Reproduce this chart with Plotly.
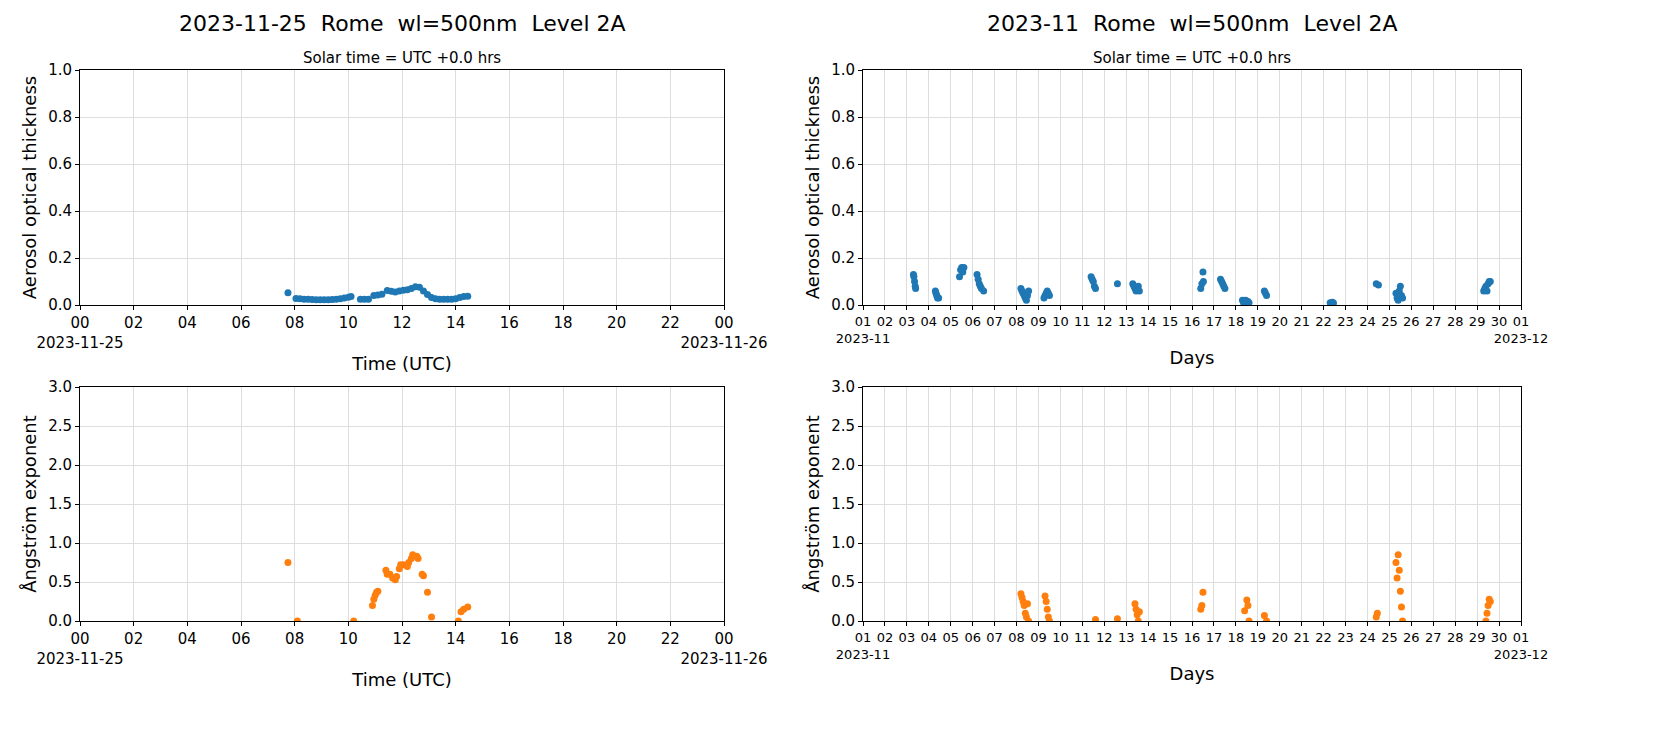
import plotly.graph_objects as go

# Day plot (2023-11-25), time in hours UTC
day_aot_t = [7.75, 8.05, 8.2, 8.35, 8.5, 8.65, 8.8, 8.95, 9.1, 9.25, 9.4, 9.55, 9.7, 9.85, 10.0, 10.1,
             10.45, 10.6, 10.75, 10.95, 11.1, 11.25, 11.45, 11.6, 11.75, 11.9, 12.05, 12.2, 12.35, 12.5, 12.65,
             12.8, 12.95, 13.1, 13.25, 13.4, 13.55, 13.7, 13.85, 14.0, 14.15, 14.3, 14.45]
day_aot_v = [0.052, 0.028, 0.027, 0.025, 0.024, 0.023, 0.022, 0.022, 0.022, 0.022, 0.023, 0.025, 0.027, 0.03, 0.033, 0.036,
             0.025, 0.024, 0.025, 0.04, 0.043, 0.046, 0.062, 0.058, 0.055, 0.06, 0.063, 0.065, 0.07, 0.078, 0.076,
             0.06, 0.045, 0.032, 0.027, 0.025, 0.024, 0.024, 0.025, 0.027, 0.032, 0.036, 0.037]
day_ae_t = [7.75, 8.1, 10.2, 10.9, 10.95, 11.0, 11.05, 11.1, 11.4, 11.45, 11.55, 11.65, 11.75, 11.8, 11.9, 11.95,
            12.05, 12.2, 12.25, 12.35, 12.4, 12.55, 12.6, 12.75, 12.8, 12.95, 13.1, 14.1, 14.2, 14.3, 14.45]
day_ae_v = [0.75, 0.0, 0.0, 0.2, 0.28, 0.33, 0.37, 0.38, 0.65, 0.6, 0.6, 0.55, 0.53, 0.57, 0.67, 0.72,
            0.72, 0.7, 0.75, 0.8, 0.85, 0.83, 0.8, 0.6, 0.58, 0.37, 0.05, 0.0, 0.12, 0.15, 0.18]

# Month plot (2023-11), day of month + fraction of day (1.0 = Nov 1 00:00)
mon_aot_t = [3.30, 3.32, 3.35, 3.38, 3.40, 4.30, 4.33, 4.36, 4.40, 4.45, 5.40, 5.45, 5.50, 5.55, 5.60,
             6.20, 6.25, 6.30, 6.35, 6.40, 6.50, 8.20, 8.25, 8.30, 8.35, 8.40, 8.45, 8.50, 8.55,
             9.25, 9.30, 9.35, 9.40, 9.45, 9.50, 11.40, 11.45, 11.50, 11.55, 11.60, 12.60,
             13.30, 13.35, 13.40, 13.45, 13.50, 13.55, 13.60, 16.40, 16.45, 16.50, 16.52,
             17.30, 17.35, 17.40, 17.45, 17.50, 18.30, 18.35, 18.45, 18.55, 18.60, 19.30, 19.35, 19.40,
             22.30, 22.35, 22.40, 22.45, 24.40, 24.50, 25.30, 25.35, 25.40, 25.45, 25.50, 25.55, 25.60,
             29.30, 29.35, 29.40, 29.45, 29.50, 29.55, 29.60]
mon_aot_v = [0.13, 0.12, 0.10, 0.08, 0.07, 0.06, 0.05, 0.04, 0.03, 0.03, 0.12, 0.15, 0.16, 0.14, 0.16,
             0.13, 0.11, 0.09, 0.08, 0.07, 0.06, 0.07, 0.06, 0.05, 0.04, 0.03, 0.02, 0.04, 0.06,
             0.03, 0.04, 0.05, 0.06, 0.05, 0.04, 0.12, 0.11, 0.10, 0.08, 0.07, 0.09,
             0.09, 0.08, 0.07, 0.06, 0.07, 0.08, 0.06, 0.07, 0.09, 0.14, 0.10,
             0.11, 0.10, 0.09, 0.08, 0.07, 0.02, 0.01, 0.02, 0.015, 0.01, 0.06, 0.05, 0.04,
             0.01, 0.005, 0.012, 0.008, 0.09, 0.085, 0.05, 0.03, 0.02, 0.06, 0.08, 0.04, 0.03,
             0.06, 0.07, 0.08, 0.06, 0.09, 0.10, 0.10]
mon_ae_t = [8.20, 8.25, 8.30, 8.35, 8.40, 8.45, 8.50, 8.55, 9.30, 9.35, 9.40, 9.45, 9.50, 11.60, 12.60,
            13.40, 13.45, 13.50, 13.55, 13.60, 16.40, 16.45, 16.50, 18.40, 18.50, 18.55, 18.60, 19.30, 19.40,
            24.40, 24.45, 25.30, 25.35, 25.40, 25.45, 25.50, 25.55, 25.60, 29.40, 29.45, 29.50, 29.55, 29.60]
mon_ae_v = [0.35, 0.30, 0.25, 0.20, 0.10, 0.05, 0.22, 0.0, 0.32, 0.25, 0.15, 0.05, 0.0, 0.02, 0.03,
            0.22, 0.15, 0.08, 0.0, 0.12, 0.15, 0.20, 0.37, 0.13, 0.27, 0.20, 0.0, 0.07, 0.0,
            0.05, 0.10, 0.75, 0.55, 0.85, 0.65, 0.38, 0.18, 0.0, 0.0, 0.1, 0.2, 0.28, 0.25]

day_ticks = list(range(0, 25, 2))
day_ticktext = ["00<br>2023-11-25"] + ["%02d" % h for h in range(2, 24, 2)] + ["00<br>2023-11-26"]
mon_ticks = list(range(1, 32))
mon_ticktext = ["01<br>2023-11"] + ["%02d" % d for d in range(2, 31)] + ["01<br>2023-12"]

BLUE, ORANGE = "#1f77b4", "#ff7f0e"
fig = go.Figure()
def add(x, y, color, xa, ya):
    fig.add_trace(go.Scatter(x=x, y=y, mode="markers", marker=dict(color=color, size=7),
                             xaxis=xa, yaxis=ya, showlegend=False))
add(day_aot_t, day_aot_v, BLUE, "x", "y")
add(mon_aot_t, mon_aot_v, BLUE, "x2", "y2")
add(day_ae_t, day_ae_v, ORANGE, "x3", "y3")
add(mon_ae_t, mon_ae_v, ORANGE, "x4", "y4")

L = (80/1654, 724/1654); R = (863/1654, 1521/1654)
T = (1-305/737, 1-70/737); B = (1-621/737, 1-387/737)
ax = dict(showline=True, linecolor="black", mirror=True, ticks="outside", tickcolor="black", ticklen=4,
          gridcolor="#dddddd", zeroline=False, tickfont=dict(size=15, color="black"),
          tickangle=0, automargin=False)
xt = lambda s: dict(text=s, font=dict(size=18), standoff=6)
yt = lambda s: dict(text=s, font=dict(size=18), standoff=6)
fig.update_layout(
    width=1654, height=737, autosize=False, margin=dict(l=0, r=0, t=0, b=0),
    plot_bgcolor="white", paper_bgcolor="white",
    font=dict(family="DejaVu Sans", color="black"),
    xaxis=dict(ax, domain=L, anchor="y", range=[0, 24], tickvals=day_ticks, ticktext=day_ticktext, title=xt("Time (UTC)")),
    yaxis=dict(ax, domain=T, anchor="x", range=[0, 1], dtick=0.2, tickformat=".1f", title=yt("Aerosol optical thickness")),
    xaxis2=dict(ax, domain=R, anchor="y2", range=[1, 31], tickvals=mon_ticks, ticktext=mon_ticktext,
                tickfont=dict(size=13, color="black"), title=xt("Days")),
    yaxis2=dict(ax, domain=T, anchor="x2", range=[0, 1], dtick=0.2, tickformat=".1f", title=yt("Aerosol optical thickness")),
    xaxis3=dict(ax, domain=L, anchor="y3", range=[0, 24], tickvals=day_ticks, ticktext=day_ticktext, title=xt("Time (UTC)")),
    yaxis3=dict(ax, domain=B, anchor="x3", range=[0, 3], dtick=0.5, tickformat=".1f", title=yt("Ångström exponent")),
    xaxis4=dict(ax, domain=R, anchor="y4", range=[1, 31], tickvals=mon_ticks, ticktext=mon_ticktext,
                tickfont=dict(size=13, color="black"), title=xt("Days")),
    yaxis4=dict(ax, domain=B, anchor="x4", range=[0, 3], dtick=0.5, tickformat=".1f", title=yt("Ångström exponent")),
    annotations=[
        dict(text=t, x=x, y=y, xref="paper", yref="paper", showarrow=False, font=dict(size=s),
             xanchor="center", yanchor="middle")
        for t, x, y, s in [
            ("2023-11-25  Rome  wl=500nm  Level 2A", sum(L)/2, 1-24/737, 22),
            ("2023-11  Rome  wl=500nm  Level 2A", sum(R)/2, 1-24/737, 22),
            ("Solar time = UTC +0.0 hrs", sum(L)/2, 1-58/737, 15),
            ("Solar time = UTC +0.0 hrs", sum(R)/2, 1-58/737, 15),
        ]
    ],
)
fig.write_html("out.html", config={"displayModeBar": False},
               post_script="document.body.style.margin='0';document.body.style.overflow='hidden';")
